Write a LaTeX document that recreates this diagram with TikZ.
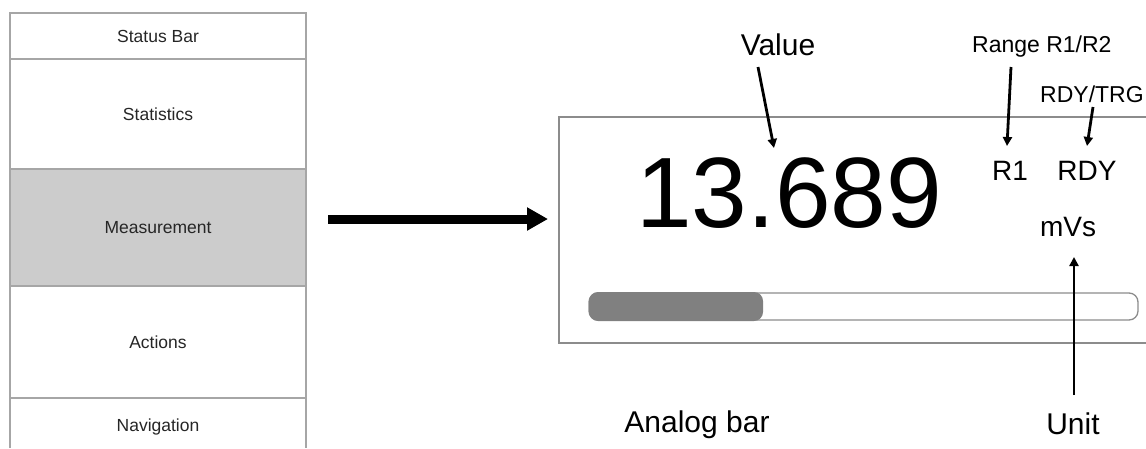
\documentclass[tikz,border=0pt]{standalone}
\usepackage{fontspec}
\setmainfont{Liberation Sans}
\usetikzlibrary{arrows.meta}
\newcommand\fsz[1]{\fontsize{#1}{#1}\selectfont}
\begin{document}
\begin{tikzpicture}[x=1pt,y=-1pt,
  cell/.style={draw=black!35, line width=1.3pt, minimum width=296pt, inner sep=0pt, font=\fsz{17.5}, text=black!85},
  panelline/.style={draw=black!45, line width=1.3pt},
  lbl/.style={inner sep=0pt, anchor=base, text=black},
  callout/.style={line width=2.8pt, -{Triangle[length=9pt,width=9pt]}},
  bigarrow/.style={line width=9pt, -{Triangle[length=21pt,width=22pt]}}]
\useasboundingbox (0,0) rectangle (1146,448);
\fill[white] (0,0) rectangle (1146,448);

% left column
\node[cell, minimum height=46pt] (status) at (158,36) {Status Bar};
\node[cell, minimum height=110pt] (stats) at (158,114) {Statistics};
\node[cell, minimum height=117pt, fill=black!20] (meas) at (158,227.5) {Measurement};
\node[cell, minimum height=112pt] (actions) at (158,342) {Actions};
\draw[panelline, draw=black!35] (10,448) -- (10,398) -- (306,398) -- (306,448);
\node[inner sep=0pt, font=\fsz{17.5}, text=black!85] (nav) at (158,427) {Navigation};

% main arrow
\coordinate (a0) at (328,219);
\coordinate (a1) at (548,219);
\draw[bigarrow] (a0) -- (a1);

% display panel
\draw[panelline] (1146,117) -- (559,117) -- (559,343) -- (1146,343);
\node[lbl, font=\fsz{100}] (value) at (789,227) {13.689};
\node[lbl, font=\fsz{28}] (r1) at (1010,180) {R1};
\node[lbl, font=\fsz{28}] (rdy) at (1087,180) {RDY};
\node[lbl, font=\fsz{28}] (mvs) at (1068,236) {mVs};

% analog bar
\draw[draw=black!45, line width=1.3pt, rounded corners=9pt] (589,293) rectangle (1138,320);
\fill[black!50, rounded corners=9pt] (589,292) rectangle (763,321);

% labels
\node[lbl, font=\fsz{30}] (valuelbl) at (778,55) {Value};
\node[lbl, font=\fsz{23}, anchor=base west] (rangelbl) at (972,52) {Range R1/R2};
\node[lbl, font=\fsz{23}, anchor=base west] (rdylbl) at (1040,102) {RDY/TRG};
\node[lbl, font=\fsz{30}] (unitlbl) at (1073,434) {Unit};
\node[lbl, font=\fsz{30}] (analoglbl) at (697,432) {Analog bar};

% callout arrows
\coordinate (v0) at (758,67);   \coordinate (v1) at (774,148);
\coordinate (g0) at (1011,67);  \coordinate (g1) at (1007,146);
\coordinate (t0) at (1093,107); \coordinate (t1) at (1087,146);
\coordinate (u0) at (1074,395); \coordinate (u1) at (1074,257);
\draw[callout] (v0) -- (v1);
\draw[callout] (g0) -- (g1);
\draw[callout] (t0) -- (t1);
\draw[callout] (u0) -- (u1);
\end{tikzpicture}
\end{document}
